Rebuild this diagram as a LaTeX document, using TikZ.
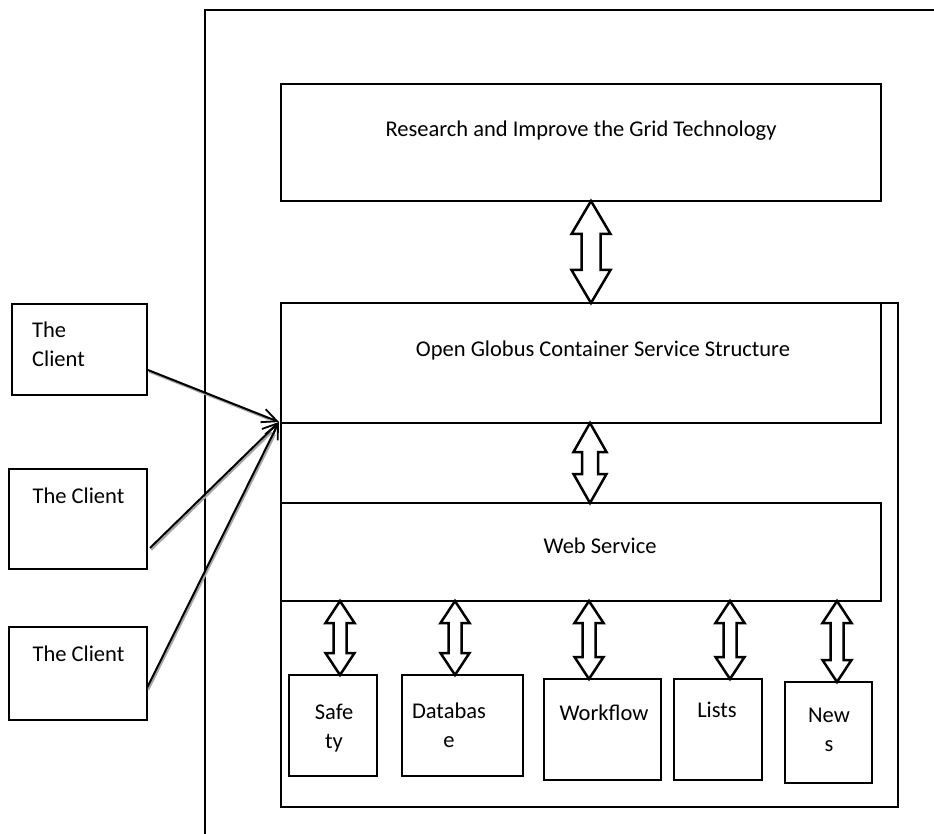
\documentclass[tikz,border=0pt]{standalone}
\usepackage{fontspec}
\setmainfont{Carlito}
\usetikzlibrary{arrows.meta,calc}

% vertical double block arrow between two anchors at a given x
% #1 x, #2 upper anchor, #3 lower anchor, #4 head half-width, #5 shaft half-width, #6 head length
\newcommand{\dblarr}[6]{%
  \draw[blockarr] let \p1=(#2), \p2=(#3) in
    (#1pt,\y1) -- (#1pt+#4pt,\y1-#6pt) -- (#1pt+#5pt,\y1-#6pt) -- (#1pt+#5pt,\y2+#6pt)
    -- (#1pt+#4pt,\y2+#6pt) -- (#1pt,\y2) -- (#1pt-#4pt,\y2+#6pt) -- (#1pt-#5pt,\y2+#6pt)
    -- (#1pt-#5pt,\y1-#6pt) -- (#1pt-#4pt,\y1-#6pt) -- cycle;}

\tikzset{
  box/.style={draw, line width=2.8pt, inner sep=0pt, outer sep=0pt, anchor=north west},
  clientbox/.style={draw, line width=1.5pt, inner sep=0pt, outer sep=0pt, anchor=north west},
  frame/.style={line width=2.8pt},
  blockarr/.style={draw, fill=white, line width=2.5pt, line join=miter},
  lbl/.style={font=\fontsize{22.5}{29}\selectfont, inner sep=0pt, align=center},
  clientarrow/.style={line width=2pt, -{Straight Barb[length=15pt,width=14pt,line width=1.8pt]}},
  shadowline/.style={line width=2pt, gray!70, shorten >=12pt},
}

\begin{document}
\begin{tikzpicture}[x=1pt,y=-1pt]
\useasboundingbox (0,0) rectangle (934,834);

% outer frame, running off the right and bottom edges
\draw[frame] (205,834) -- (205,10) -- (934,10);

% top box
\node[box, minimum width=600pt, minimum height=117pt] (research) at (281,84) {};
\node[lbl, anchor=base] (researchtxt) at (581,137) {Research and Improve the Grid Technology};

% container with its two layers
\node[box, minimum width=617pt, minimum height=504pt] (container) at (281,303) {};
\node[box, minimum width=600pt, minimum height=120pt] (globus) at (281,303) {};
\node[lbl, anchor=base] (globustxt) at (603,356) {Open Globus Container Service Structure};
\node[box, minimum width=600pt, minimum height=98pt] (web) at (281,503) {};
\node[lbl, anchor=base] (webtxt) at (600,553) {Web Service};

% service modules
\node[box, minimum width=88pt, minimum height=101pt] (safety) at (289,675) {};
\node[box, minimum width=121pt, minimum height=101pt] (database) at (402,675) {};
\node[box, minimum width=117pt, minimum height=101pt] (workflow) at (544,679) {};
\node[box, minimum width=88pt, minimum height=101pt] (lists) at (674,679) {};
\node[box, minimum width=87pt, minimum height=101pt] (news) at (785,682) {};

% two-line labels are placed by the baseline of their last line
\node[lbl, anchor=base] (safetytxt) at (334,748) {Safe\\ty};
\node[lbl, anchor=base] (databasetxt) at (449,747) {Databas\\e};
\node[lbl, anchor=base] (workflowtxt) at (604,720) {Workflow};
\node[lbl, anchor=base] (liststxt) at (717,717) {Lists};
\node[lbl, anchor=base] (newstxt) at (829,751) {New\\s};

% double arrows between the layers
\dblarr{591}{research.south}{globus.north}{19.5}{9.5}{33}
\dblarr{590}{globus.south}{web.north}{16.5}{8}{29}
\dblarr{340}{web.south}{safety.north}{14.5}{6.5}{22}
\dblarr{455}{web.south}{database.north}{14.5}{6.5}{22}
\dblarr{589}{web.south}{workflow.north}{14.5}{6.5}{22}
\dblarr{730}{web.south}{lists.north}{14.5}{6.5}{22}
\dblarr{837}{web.south}{news.north}{14.5}{6.5}{22}

% clients
\node[clientbox, minimum width=135pt, minimum height=91pt] (client1) at (12,304) {};
\node[clientbox, minimum width=138pt, minimum height=100pt] (client2) at (9,469) {};
\node[clientbox, minimum width=138pt, minimum height=93pt] (client3) at (9,627) {};
\node[lbl, anchor=base west, align=left] (client1txt) at (32,366) {The\\Client};
\node[lbl, anchor=base] (client2txt) at (78.5,503) {The Client};
\node[lbl, anchor=base] (client3txt) at (78.5,661) {The Client};

% client connectors, all meeting at the container's left side
\coordinate (c1out) at (148,370);
\coordinate (c2out) at (150,548);
\coordinate (c3out) at (147,688);
\coordinate (hub) at (279,422);
\foreach \c in {c1out,c2out,c3out}{
  \draw[shadowline] ([shift={(1.3,1.8)}]\c) -- ([shift={(1.3,1.8)}]hub);
  \draw[clientarrow] (\c) -- (hub);
}
\end{tikzpicture}
\end{document}
